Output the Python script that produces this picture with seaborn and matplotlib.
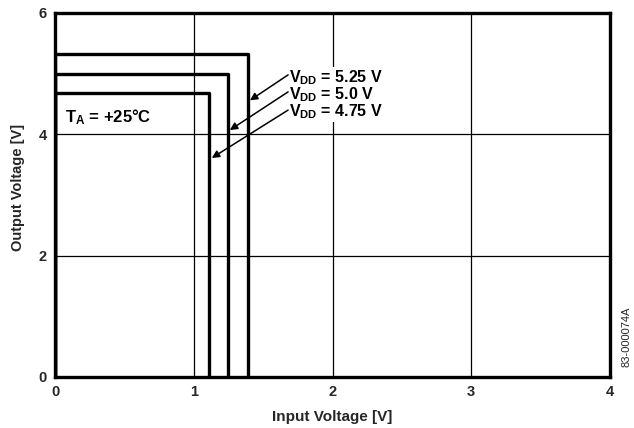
import matplotlib
matplotlib.use("Agg")
import matplotlib.pyplot as plt
import seaborn as sns
import pandas as pd

# ---- data ----
vdd_labels = ["5.25 V", "5.0 V", "4.75 V"]
out_high = [5.32, 5.00, 4.68]        # output high level [V]
thresholds = [1.39, 1.245, 1.11]     # switching input voltage [V]
x_ticks = [0, 1, 2, 3, 4]
y_ticks = [0, 2, 4, 6]
# annotation arrows (tail -> tip) in data units
arrow_tails = [(1.68, 4.98), (1.68, 4.70), (1.68, 4.40)]
arrow_tips = [(1.405, 4.56), (1.26, 4.07), (1.13, 3.61)]
label_x = 1.69
label_y = [4.94, 4.65, 4.37]

rows = []
for lab, vh, xt in zip(vdd_labels, out_high, thresholds):
    for i, (xx, yy) in enumerate([(0, 0), (0, vh), (xt, vh), (xt, 0)]):
        rows.append({"vdd": lab, "order": i, "vin": xx, "vout": yy})
df = pd.DataFrame(rows)

sns.set_theme(style="white")
plt.rcParams["font.family"] = ["Liberation Sans", "DejaVu Sans"]
plt.rcParams["font.weight"] = "bold"
plt.rcParams["mathtext.fontset"] = "custom"
plt.rcParams["mathtext.rm"] = "Liberation Sans:bold"
plt.rcParams["mathtext.it"] = "Liberation Sans:bold"
plt.rcParams["mathtext.bf"] = "Liberation Sans:bold"

fig = plt.figure(figsize=(6.34, 4.28), dpi=100)
ax = fig.add_axes([55 / 634, 1 - 377 / 428, 555 / 634, 364 / 428])

sns.lineplot(data=df, x="vin", y="vout", hue="vdd", units="vdd", estimator=None,
             sort=False, palette=["black"] * 3, linewidth=2.4, legend=False, ax=ax)

ax.set_xlim(0, 4)
ax.set_ylim(0, 6)
ax.set_xticks(x_ticks)
ax.set_yticks(y_ticks)
ax.set_xticklabels([str(t) for t in x_ticks], fontsize=10.5, fontweight="bold")
ax.set_yticklabels([str(t) for t in y_ticks], fontsize=10.5, fontweight="bold")
ax.tick_params(length=0, pad=6)
ax.grid(True, color="black", linewidth=0.9)
ax.set_axisbelow(True)
for s in ax.spines.values():
    s.set_color("black")
    s.set_linewidth(2.4)

ax.set_xlabel("Input Voltage [V]", fontsize=11, fontweight="bold", labelpad=8)
ax.set_ylabel("Output Voltage [V]", fontsize=10.5, fontweight="bold")
ax.yaxis.set_label_coords(-0.054, 0.522)

for lab, ly in zip(vdd_labels, label_y):
    ax.text(label_x, ly, r"V$_\mathrm{DD}$ = " + lab, fontsize=11.5, fontweight="bold",
            va="center", ha="left", color="black",
            bbox=dict(facecolor="white", edgecolor="none", pad=0.5))
for tail, tip in zip(arrow_tails, arrow_tips):
    ax.annotate("", xy=tip, xytext=tail,
                arrowprops=dict(arrowstyle="-|>", color="black", lw=1.1,
                                mutation_scale=11, shrinkA=0, shrinkB=0))

ax.text(0.07, 4.28, r"T$_\mathrm{A}$ = +25°C", fontsize=12, fontweight="bold",
        va="center", ha="left", color="black")

fig.text(627 / 634, 1 - 337 / 428, "83-000074A", rotation=90, fontsize=8,
         fontweight="normal", ha="center", va="center")

fig.savefig("out.png", dpi=100, facecolor="white")
